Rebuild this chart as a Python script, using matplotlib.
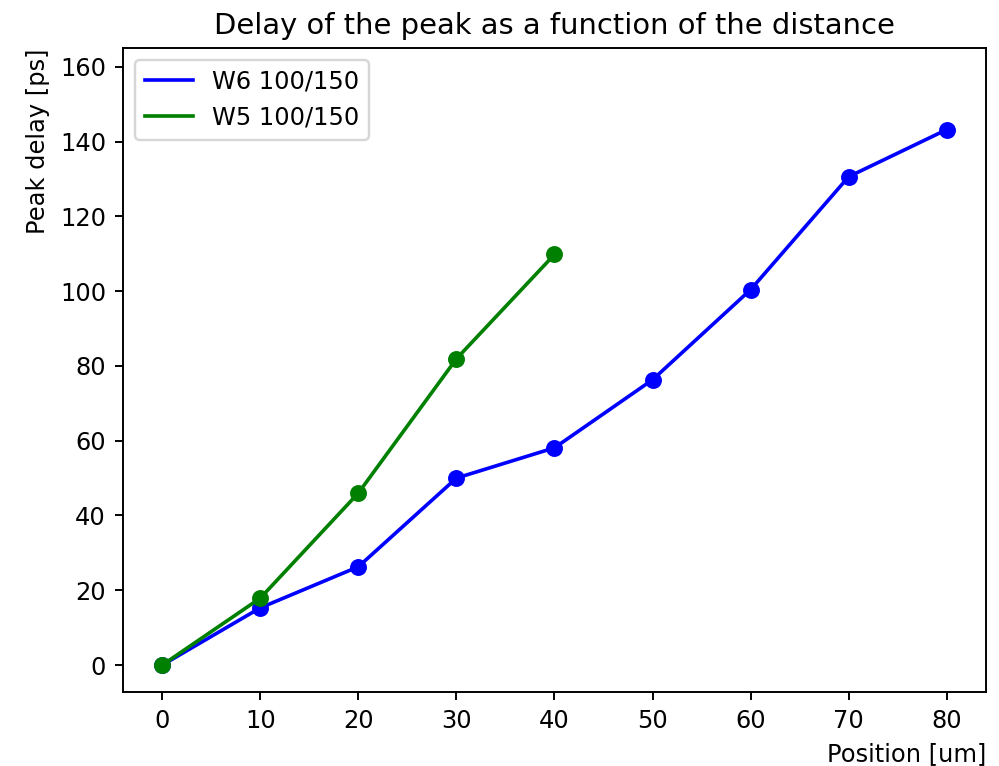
import matplotlib
matplotlib.use("Agg")
import matplotlib.pyplot as plt

w6_x = [0, 10, 20, 30, 40, 50, 60, 70, 80]
w6_y = [0, 15.3, 26.3, 50.0, 58.1, 76.3, 100.4, 130.6, 143.2]
w5_x = [0, 10, 20, 30, 40]
w5_y = [0, 17.9, 46.0, 81.9, 109.8]

DPI = 174
fig = plt.figure(figsize=(999 / DPI, 766 / DPI), dpi=DPI)
ax = fig.add_axes([0.1231, 0.0966, 0.987 - 0.1231, 0.9373 - 0.0966])

ax.plot(w6_x, w6_y, color='blue', label='W6 100/150')
ax.plot(w6_x, w6_y, 'o', color='blue')
ax.plot(w5_x, w5_y, color='green', label='W5 100/150')
ax.plot(w5_x, w5_y, 'o', color='green')

ax.set_xlim(-4, 84)
ax.set_ylim(-7.2, 165)
ax.set_title('Delay of the peak as a function of the distance')
ax.set_xlabel('Position [um]', loc='right')
ax.set_ylabel('Peak delay [ps]', loc='top')
ax.legend(loc='upper left')

fig.savefig('out.png', dpi=DPI)
